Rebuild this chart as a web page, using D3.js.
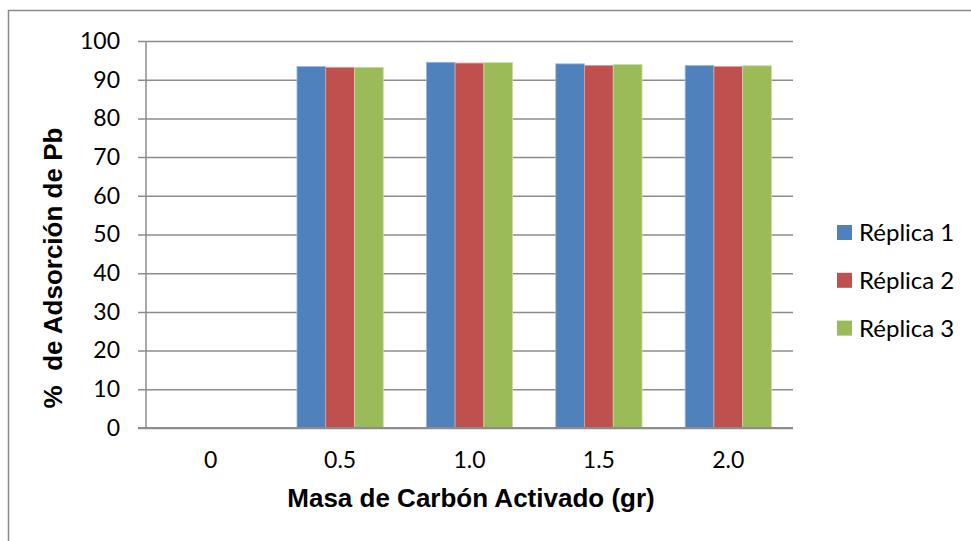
<!DOCTYPE html>
<html>
<head>
<meta charset="utf-8">
<script src="https://cdn.jsdelivr.net/npm/d3@7"></script>
<style>
  body { margin: 0; background: #fff; }
  svg { display: block; }
</style>
</head>
<body>
<svg id="chart" width="971" height="541"></svg>
<script>
// Data
const categories = ['0', '0.5', '1.0', '1.5', '2.0'];
const seriesNames = ['Réplica 1', 'Réplica 2', 'Réplica 3'];
const replica1 = [0, 93.4, 94.5, 94.1, 93.7];
const replica2 = [0, 93.2, 94.3, 93.7, 93.4];
const replica3 = [0, 93.2, 94.4, 93.9, 93.6];
const yTicks = [0, 10, 20, 30, 40, 50, 60, 70, 80, 90, 100];
const colors = ['#4F81BD', '#C0504D', '#9BBB59'];

const seriesValues = [replica1, replica2, replica3];

const svg = d3.select('#chart');
const plot = { left: 146, right: 793, top: 41, bottom: 428 };
const gridColor = '#8c8c8c';

// outer chart border (bottom and right edges fall outside the picture)
svg.append('rect')
  .attr('x', 8.5)
  .attr('y', 10.5)
  .attr('width', 1000)
  .attr('height', 600)
  .attr('fill', 'none')
  .attr('stroke', '#8a8a8a')
  .attr('stroke-width', 1.5);

// scales
const x0 = d3.scaleBand()
  .domain(categories)
  .range([plot.left, plot.right])
  .padding(0);

const step = x0.bandwidth();
const x1 = d3.scaleBand()
  .domain(seriesNames)
  .range([step * 0.75 / 4.5, step * 3.75 / 4.5])
  .padding(0);

const y = d3.scaleLinear()
  .domain([0, 100])
  .range([plot.bottom, plot.top]);

// gridlines + y ticks
const yAxis = d3.axisLeft(y)
  .tickValues(yTicks)
  .tickSize(-(plot.right - plot.left))
  .tickPadding(26)
  .tickSizeOuter(0);

const gy = svg.append('g')
  .attr('transform', `translate(${plot.left},0)`)
  .call(yAxis);

gy.select('.domain').remove();
gy.selectAll('.tick line')
  .attr('x1', -8)
  .attr('stroke', gridColor)
  .attr('stroke-width', 1.5);
gy.selectAll('.tick text')
  .attr('fill', '#000')
  .style('font-family', 'Lato, Carlito, Calibri, sans-serif')
  .style('font-size', '23px');

// bars
const groups = svg.append('g')
  .selectAll('g')
  .data(categories)
  .join('g')
  .attr('transform', d => `translate(${x0(d)},0)`);

groups.selectAll('rect')
  .data((d, i) => seriesNames.map((name, s) => ({ name: name, s: s, value: seriesValues[s][i] })))
  .join('rect')
  .filter(d => d.value > 0)
  .attr('x', d => x1(d.name))
  .attr('y', d => y(d.value))
  .attr('width', x1.bandwidth())
  .attr('height', d => y(0) - y(d.value))
  .attr('fill', d => colors[d.s])
  .attr('stroke', d => d3.interpolateRgb(colors[d.s], '#ffffff')(0.45))
  .attr('stroke-width', 0.8);

// y axis line
svg.append('line')
  .attr('x1', plot.left)
  .attr('x2', plot.left)
  .attr('y1', plot.top)
  .attr('y2', plot.bottom)
  .attr('stroke', gridColor)
  .attr('stroke-width', 1.5);

// x axis
const xAxis = d3.axisBottom(x0)
  .tickSize(0)
  .tickPadding(24);

const gx = svg.append('g')
  .attr('transform', `translate(0,${plot.bottom})`)
  .call(xAxis);

gx.select('.domain')
  .attr('d', `M${plot.left - 8},0H${plot.right}`)
  .attr('stroke', gridColor)
  .attr('stroke-width', 2);
gx.selectAll('.tick text')
  .attr('fill', '#000')
  .style('font-family', 'Lato, Carlito, Calibri, sans-serif')
  .style('font-size', '23px');

// axis titles
svg.append('text')
  .attr('x', 471)
  .attr('y', 507)
  .attr('text-anchor', 'middle')
  .style('font-family', '"Liberation Sans", Arial, sans-serif')
  .style('font-weight', 'bold')
  .style('font-size', '26px')
  .text('Masa de Carbón Activado (gr)');

svg.append('text')
  .attr('transform', 'translate(62,268) rotate(-90)')
  .attr('text-anchor', 'middle')
  .style('font-family', '"Liberation Sans", Arial, sans-serif')
  .style('font-weight', 'bold')
  .style('font-size', '26px')
  .style('white-space', 'pre')
  .text('%  de Adsorción de Pb');

// legend
const legend = svg.append('g')
  .selectAll('g')
  .data(seriesNames)
  .join('g')
  .attr('transform', (d, i) => `translate(837,${232.5 + i * 47.8})`);

legend.append('rect')
  .attr('x', 0)
  .attr('y', -7.5)
  .attr('width', 15)
  .attr('height', 15)
  .attr('fill', (d, i) => colors[i]);

legend.append('text')
  .attr('x', 22)
  .attr('y', 0)
  .attr('dy', '0.35em')
  .style('font-family', 'Lato, Carlito, Calibri, sans-serif')
  .style('font-size', '24px')
  .text(d => d);
</script>
</body>
</html>
